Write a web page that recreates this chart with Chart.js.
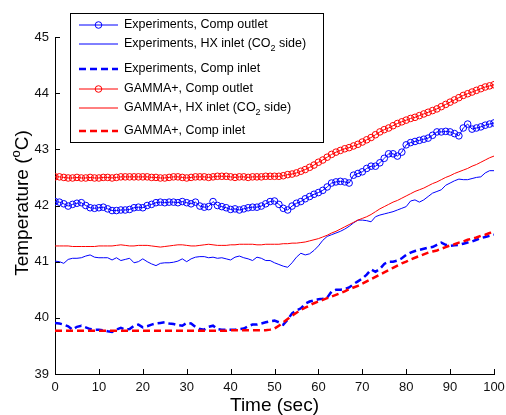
<!DOCTYPE html>
<html>
<head>
<meta charset="utf-8">
<title>Temperature (CO2 loop)</title>
<script src="https://cdn.jsdelivr.net/npm/chart.js@4.4.1/dist/chart.umd.min.js"></script>
<style>
  html, body { margin: 0; padding: 0; background: #fff; }
  canvas { display: block; }
</style>
</head>
<body>
<canvas id="chart" width="506" height="415"></canvas>
<script>
// time axis, one sample per second
const time = Array.from({ length: 101 }, (_, i) => i);

const expOut = [
  42.07, 42.06, 42.03, 41.99, 42.02, 42.04, 42.05, 42.00, 41.96, 41.95,
  41.96, 41.97, 41.94, 41.91, 41.91, 41.92, 41.92, 41.93, 41.96, 41.97,
  41.96, 42.00, 42.02, 42.05, 42.06, 42.05, 42.06, 42.06, 42.05, 42.07,
  42.05, 42.03, 42.06, 41.99, 41.97, 41.98, 42.07, 42.00, 41.98, 41.96,
  41.93, 41.94, 41.92, 41.94, 41.96, 41.97, 41.97, 41.99, 42.03, 42.07,
  42.08, 42.02, 41.95, 41.92, 41.99, 42.04, 42.07, 42.12, 42.16, 42.20,
  42.23, 42.27, 42.33, 42.40, 42.42, 42.43, 42.42, 42.40, 42.54, 42.57,
  42.60, 42.66, 42.70, 42.70, 42.76, 42.84, 42.92, 42.92, 42.88, 42.95,
  43.08, 43.12, 43.14, 43.16, 43.18, 43.20, 43.25, 43.31, 43.31, 43.32,
  43.31, 43.28, 43.24, 43.38, 43.45, 43.36, 43.38, 43.40, 43.43, 43.45,
  43.47
];

const expHx = [
  41.01, 41.00, 40.97, 41.04, 41.06, 41.06, 41.07, 41.10, 41.12, 41.08,
  41.07, 41.07, 41.07, 41.03, 41.07, 41.02, 41.04, 41.06, 40.98, 41.00,
  41.05, 41.00, 40.96, 40.93, 40.97, 40.98, 40.98, 40.99, 41.01, 41.05,
  41.00, 41.05, 41.08, 41.09, 41.09, 41.07, 41.08, 41.06, 41.07, 41.05,
  41.03, 41.08, 41.10, 41.07, 41.05, 41.02, 41.08, 41.06, 41.02, 41.02,
  40.98, 40.95, 40.92, 40.90, 40.98, 41.08, 41.15, 41.12, 41.14, 41.20,
  41.28, 41.38, 41.45, 41.48, 41.51, 41.54, 41.58, 41.63, 41.69, 41.74,
  41.74, 41.73, 41.71, 41.80, 41.83, 41.85, 41.87, 41.89, 41.92, 41.95,
  41.98, 42.08, 42.10, 42.06, 42.10, 42.16, 42.22, 42.25, 42.28, 42.36,
  42.40, 42.44, 42.47, 42.46, 42.46, 42.48, 42.50, 42.51, 42.58, 42.62,
  42.62
];

const expIn = [
  39.91, 39.90, 39.88, 39.85, 39.79, 39.84, 39.86, 39.83, 39.80, 39.79,
  39.79, 39.78, 39.76, 39.75, 39.79, 39.82, 39.79, 39.80, 39.86, 39.88,
  39.83, 39.85, 39.88, 39.90, 39.91, 39.92, 39.90, 39.89, 39.87, 39.86,
  39.91, 39.90, 39.84, 39.80, 39.79, 39.84, 39.86, 39.80, 39.79, 39.79,
  39.79, 39.79, 39.80, 39.81, 39.85, 39.88, 39.88, 39.90, 39.92, 39.94,
  39.95, 39.92, 39.88, 39.97, 40.08, 40.13, 40.17, 40.25, 40.29, 40.31,
  40.33, 40.34, 40.36, 40.47, 40.50, 40.50, 40.51, 40.54, 40.60, 40.65,
  40.70, 40.77, 40.86, 40.82, 40.87, 40.96, 41.00, 41.00, 41.02, 41.06,
  41.12, 41.16, 41.19, 41.21, 41.23, 41.25, 41.26, 41.30, 41.34, 41.30,
  41.28, 41.29, 41.30, 41.32, 41.34, 41.36, 41.39, 41.42, 41.44, 41.46,
  41.48
];

const gammaOut = [
  42.51, 42.51, 42.50, 42.49, 42.49, 42.50, 42.49, 42.49, 42.50, 42.49,
  42.49, 42.50, 42.50, 42.49, 42.50, 42.51, 42.51, 42.51, 42.51, 42.51,
  42.51, 42.51, 42.50, 42.50, 42.49, 42.49, 42.50, 42.51, 42.51, 42.50,
  42.49, 42.50, 42.51, 42.51, 42.51, 42.50, 42.51, 42.52, 42.52, 42.52,
  42.51, 42.50, 42.51, 42.51, 42.50, 42.51, 42.51, 42.51, 42.52, 42.52,
  42.52, 42.52, 42.53, 42.55, 42.56, 42.58, 42.61, 42.64, 42.68, 42.72,
  42.77, 42.81, 42.86, 42.91, 42.95, 42.98, 43.01, 43.03, 43.06, 43.09,
  43.13, 43.17, 43.21, 43.26, 43.31, 43.35, 43.38, 43.42, 43.46, 43.49,
  43.52, 43.55, 43.57, 43.60, 43.63, 43.66, 43.69, 43.72, 43.76, 43.80,
  43.84, 43.88, 43.92, 43.96, 43.99, 44.02, 44.05, 44.08, 44.11, 44.13,
  44.15
];

const gammaHx = [
  41.28, 41.28, 41.28, 41.28, 41.27, 41.27, 41.27, 41.27, 41.27, 41.27,
  41.28, 41.28, 41.28, 41.28, 41.29, 41.30, 41.29, 41.28, 41.28, 41.29,
  41.29, 41.29, 41.28, 41.27, 41.26, 41.27, 41.28, 41.29, 41.30, 41.30,
  41.29, 41.28, 41.28, 41.29, 41.30, 41.31, 41.30, 41.29, 41.29, 41.29,
  41.30, 41.30, 41.31, 41.31, 41.31, 41.31, 41.30, 41.30, 41.31, 41.31,
  41.31, 41.31, 41.32, 41.32, 41.33, 41.33, 41.34, 41.35, 41.37, 41.39,
  41.41, 41.44, 41.47, 41.51, 41.54, 41.58, 41.62, 41.66, 41.70, 41.74,
  41.77, 41.80, 41.84, 41.89, 41.94, 41.98, 42.02, 42.06, 42.09, 42.13,
  42.17, 42.21, 42.25, 42.28, 42.31, 42.35, 42.39, 42.42, 42.46, 42.50,
  42.53, 42.57, 42.60, 42.63, 42.66, 42.70, 42.73, 42.77, 42.81, 42.85,
  42.88
];

const gammaIn = [
  39.77, 39.77, 39.77, 39.77, 39.77, 39.77, 39.77, 39.77, 39.77, 39.77,
  39.77, 39.77, 39.77, 39.77, 39.77, 39.77, 39.77, 39.77, 39.77, 39.77,
  39.77, 39.77, 39.77, 39.77, 39.77, 39.77, 39.77, 39.77, 39.77, 39.77,
  39.77, 39.77, 39.77, 39.77, 39.77, 39.77, 39.77, 39.77, 39.77, 39.77,
  39.78, 39.78, 39.78, 39.78, 39.78, 39.78, 39.78, 39.78, 39.78, 39.79,
  39.81, 39.86, 39.92, 39.98, 40.04, 40.09, 40.14, 40.18, 40.22, 40.26,
  40.29, 40.32, 40.35, 40.38, 40.41, 40.44, 40.47, 40.51, 40.54, 40.57,
  40.61, 40.65, 40.69, 40.73, 40.77, 40.81, 40.85, 40.89, 40.93, 40.97,
  41.00, 41.04, 41.07, 41.10, 41.13, 41.16, 41.18, 41.20, 41.23, 41.26,
  41.29, 41.31, 41.34, 41.36, 41.39, 41.41, 41.43, 41.46, 41.48, 41.51,
  41.53
];

const seriesNames = [
  'Experiments, Comp outlet',
  'Experiments, HX inlet (CO₂ side)',
  'Experiments, Comp inlet',
  'GAMMA+, Comp outlet',
  'GAMMA+, HX inlet (CO₂ side)',
  'GAMMA+, Comp inlet'
];
const seriesValues = [expOut, expHx, expIn, gammaOut, gammaHx, gammaIn];

const xTicks = [0, 10, 20, 30, 40, 50, 60, 70, 80, 90, 100];
const yTicks = [39, 40, 41, 42, 43, 44, 45];

// line look per series
const styles = [
  { color: '#0000ff', width: 1, dash: [], radius: 3.3 },
  { color: '#0000ff', width: 1, dash: [], radius: 0 },
  { color: '#0000ff', width: 2.5, dash: [7, 4], radius: 0 },
  { color: '#ff0000', width: 1, dash: [], radius: 3.3 },
  { color: '#ff0000', width: 1, dash: [], radius: 0 },
  { color: '#ff0000', width: 2.5, dash: [7, 4], radius: 0 }
];

const FONT = '"Liberation Sans", Arial, Helvetica, sans-serif';

// text with a subscript 2 (CO₂)
function drawLabel(ctx, text, x, y) {
  const parts = text.split('₂');
  ctx.textBaseline = 'middle';
  ctx.textAlign = 'left';
  parts.forEach((part, i) => {
    ctx.font = '12.5px ' + FONT;
    ctx.fillText(part, x, y);
    x += ctx.measureText(part).width;
    if (i < parts.length - 1) {
      ctx.font = '9px ' + FONT;
      ctx.fillText('2', x, y + 5);
      x += ctx.measureText('2').width;
    }
  });
}

// inward tick marks + axis titles
const axisDecor = {
  id: 'axisDecor',
  afterDraw(chart) {
    const ctx = chart.ctx;
    const area = chart.chartArea;
    const xs = chart.scales.x, ys = chart.scales.y;
    ctx.save();
    ctx.strokeStyle = '#000';
    ctx.lineWidth = 1;
    ctx.beginPath();
    xTicks.forEach(v => {
      const px = Math.round(xs.getPixelForValue(v)) + 0.5;
      ctx.moveTo(px, area.bottom);
      ctx.lineTo(px, area.bottom - 5);
    });
    yTicks.forEach(v => {
      const py = Math.round(ys.getPixelForValue(v)) + 0.5;
      ctx.moveTo(area.left, py);
      ctx.lineTo(area.left + 5, py);
    });
    ctx.stroke();

    ctx.fillStyle = '#000';
    ctx.font = '19px ' + FONT;
    ctx.textAlign = 'center';
    ctx.textBaseline = 'alphabetic';
    ctx.fillText('Time (sec)', (area.left + area.right) / 2, 411);

    // y title: Temperature (°C) with a raised small o
    ctx.translate(28, 203);
    ctx.rotate(-Math.PI / 2);
    const a = 'Temperature (', b = 'o', c = 'C)';
    ctx.font = '19px ' + FONT;
    const wa = ctx.measureText(a).width, wc = ctx.measureText(c).width;
    ctx.font = '13px ' + FONT;
    const wb = ctx.measureText(b).width;
    let x = -(wa + wb + wc) / 2;
    ctx.textAlign = 'left';
    ctx.font = '19px ' + FONT;
    ctx.fillText(a, x, 0);
    x += wa;
    ctx.font = '13px ' + FONT;
    ctx.fillText(b, x, -8);
    x += wb;
    ctx.font = '19px ' + FONT;
    ctx.fillText(c, x, 0);
    ctx.restore();
  }
};

// boxed legend in the top-left corner of the axes
const legendBox = {
  id: 'legendBox',
  afterDraw(chart) {
    const ctx = chart.ctx;
    const rows = [25, 44, 69, 89, 108, 131];
    ctx.save();
    ctx.fillStyle = '#fff';
    ctx.fillRect(70.5, 13.5, 253, 129);
    ctx.strokeStyle = '#000';
    ctx.lineWidth = 1;
    ctx.strokeRect(70.5, 13.5, 253, 129);
    chart.data.datasets.forEach((ds, i) => {
      const y = rows[i];
      ctx.strokeStyle = ds.borderColor;
      ctx.lineWidth = ds.borderWidth;
      ctx.setLineDash(ds.borderDash);
      ctx.beginPath();
      ctx.moveTo(79, y);
      ctx.lineTo(118, y);
      ctx.stroke();
      ctx.setLineDash([]);
      if (ds.pointRadius > 0) {
        ctx.lineWidth = 1;
        ctx.beginPath();
        ctx.arc(98.5, y, ds.pointRadius, 0, Math.PI * 2);
        ctx.stroke();
      }
      ctx.fillStyle = '#000';
      drawLabel(ctx, seriesNames[i], 124, y);
    });
    ctx.restore();
  }
};

const datasets = seriesValues.map((vals, i) => ({
  label: seriesNames[i],
  data: vals.map((v, k) => ({ x: time[k], y: v })),
  borderColor: styles[i].color,
  borderWidth: styles[i].width,
  borderDash: styles[i].dash,
  pointRadius: styles[i].radius,
  pointBorderWidth: 1,
  pointBorderColor: styles[i].color,
  pointBackgroundColor: 'rgba(0,0,0,0)',
  pointStyle: 'circle',
  tension: 0,
  fill: false,
  order: seriesValues.length - i
}));

new Chart(document.getElementById('chart'), {
  type: 'line',
  data: { datasets },
  options: {
    responsive: false,
    devicePixelRatio: 1,
    animation: false,
    events: [],
    layout: { padding: { left: 0, top: 37, right: 12, bottom: 0 } },
    scales: {
      x: {
        type: 'linear',
        min: 0,
        max: 100,
        afterBuildTicks: s => { s.ticks = xTicks.map(v => ({ value: v })); },
        afterFit: s => { s.height = 41; s.paddingLeft = 0; s.paddingRight = 0; },
        grid: { display: false, drawTicks: false },
        border: { display: true, color: '#000', width: 1 },
        ticks: { color: '#111', padding: 6, maxRotation: 0, font: { family: FONT, size: 13 } }
      },
      y: {
        type: 'linear',
        min: 39,
        max: 45,
        afterBuildTicks: s => { s.ticks = yTicks.map(v => ({ value: v })); },
        afterFit: s => { s.width = 55; s.paddingTop = 0; s.paddingBottom = 0; },
        grid: { display: false, drawTicks: false },
        border: { display: true, color: '#000', width: 1 },
        ticks: { color: '#111', padding: 6, font: { family: FONT, size: 13 } }
      }
    },
    plugins: {
      legend: { display: false },
      tooltip: { enabled: false }
    }
  },
  plugins: [axisDecor, legendBox]
});
</script>
</body>
</html>
